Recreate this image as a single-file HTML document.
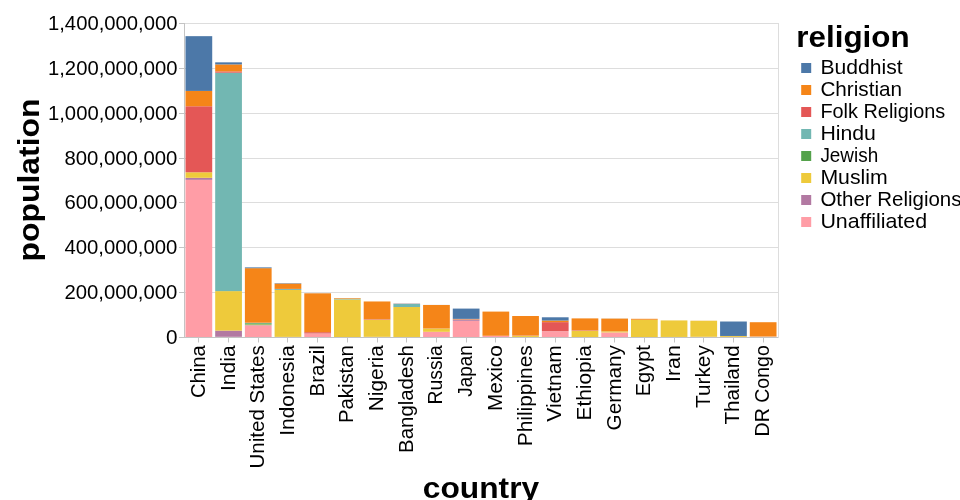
<!DOCTYPE html>
<html><head><meta charset="utf-8"><title>chart</title>
<style>html,body{margin:0;padding:0;background:#fff;}svg{display:block;}text{font-family:"Liberation Sans",sans-serif;fill:#000;}</style></head><body>
<svg width="960" height="500" viewBox="0 0 960 500">
<rect width="960" height="500" fill="#fff"/>
<g><line x1="184" x2="778" y1="337.5" y2="337.5" stroke="#ddd" stroke-width="1"/><line x1="184" x2="778" y1="292.5" y2="292.5" stroke="#ddd" stroke-width="1"/><line x1="184" x2="778" y1="247.5" y2="247.5" stroke="#ddd" stroke-width="1"/><line x1="184" x2="778" y1="202.5" y2="202.5" stroke="#ddd" stroke-width="1"/><line x1="184" x2="778" y1="158.5" y2="158.5" stroke="#ddd" stroke-width="1"/><line x1="184" x2="778" y1="113.5" y2="113.5" stroke="#ddd" stroke-width="1"/><line x1="184" x2="778" y1="68.5" y2="68.5" stroke="#ddd" stroke-width="1"/><line x1="184" x2="778" y1="23.5" y2="23.5" stroke="#ddd" stroke-width="1"/></g>
<g><rect x="185.49" y="179.85" width="26.73" height="157.15" fill="#ff9da6"/><rect x="185.49" y="177.81" width="26.73" height="2.04" fill="#b279a2"/><rect x="185.49" y="172.27" width="26.73" height="5.54" fill="#eeca3b"/><rect x="185.49" y="172.27" width="26.73" height="0.00" fill="#72b7b2"/><rect x="185.49" y="106.26" width="26.73" height="66.01" fill="#e45756"/><rect x="185.49" y="90.91" width="26.73" height="15.34" fill="#f58518"/><rect x="185.49" y="36.16" width="26.73" height="54.75" fill="#4c78a8"/><rect x="215.19" y="336.80" width="26.73" height="0.20" fill="#ff9da6"/><rect x="215.19" y="330.62" width="26.73" height="6.18" fill="#b279a2"/><rect x="215.19" y="291.11" width="26.73" height="39.52" fill="#eeca3b"/><rect x="215.19" y="291.10" width="26.73" height="0.00" fill="#54a24b"/><rect x="215.19" y="72.71" width="26.73" height="218.40" fill="#72b7b2"/><rect x="215.19" y="71.40" width="26.73" height="1.31" fill="#e45756"/><rect x="215.19" y="64.41" width="26.73" height="6.98" fill="#f58518"/><rect x="215.19" y="62.34" width="26.73" height="2.07" fill="#4c78a8"/><rect x="244.89" y="325.57" width="26.73" height="11.43" fill="#ff9da6"/><rect x="244.89" y="325.14" width="26.73" height="0.43" fill="#b279a2"/><rect x="244.89" y="324.52" width="26.73" height="0.62" fill="#eeca3b"/><rect x="244.89" y="323.24" width="26.73" height="1.28" fill="#54a24b"/><rect x="244.89" y="322.84" width="26.73" height="0.40" fill="#72b7b2"/><rect x="244.89" y="322.70" width="26.73" height="0.14" fill="#e45756"/><rect x="244.89" y="268.18" width="26.73" height="54.51" fill="#f58518"/><rect x="244.89" y="267.38" width="26.73" height="0.80" fill="#4c78a8"/><rect x="274.59" y="336.95" width="26.73" height="0.05" fill="#ff9da6"/><rect x="274.59" y="336.87" width="26.73" height="0.08" fill="#b279a2"/><rect x="274.59" y="289.97" width="26.73" height="46.90" fill="#eeca3b"/><rect x="274.59" y="289.06" width="26.73" height="0.91" fill="#72b7b2"/><rect x="274.59" y="288.89" width="26.73" height="0.17" fill="#e45756"/><rect x="274.59" y="283.58" width="26.73" height="5.31" fill="#f58518"/><rect x="274.59" y="283.20" width="26.73" height="0.39" fill="#4c78a8"/><rect x="304.29" y="333.54" width="26.73" height="3.46" fill="#ff9da6"/><rect x="304.29" y="333.46" width="26.73" height="0.08" fill="#b279a2"/><rect x="304.29" y="333.45" width="26.73" height="0.01" fill="#eeca3b"/><rect x="304.29" y="333.43" width="26.73" height="0.02" fill="#54a24b"/><rect x="304.29" y="332.18" width="26.73" height="1.24" fill="#e45756"/><rect x="304.29" y="293.32" width="26.73" height="38.87" fill="#f58518"/><rect x="304.29" y="293.26" width="26.73" height="0.06" fill="#4c78a8"/><rect x="333.99" y="299.45" width="26.73" height="37.55" fill="#eeca3b"/><rect x="333.99" y="298.71" width="26.73" height="0.75" fill="#72b7b2"/><rect x="333.99" y="298.09" width="26.73" height="0.62" fill="#f58518"/><rect x="333.99" y="298.08" width="26.73" height="0.00" fill="#4c78a8"/><rect x="363.69" y="336.85" width="26.73" height="0.15" fill="#ff9da6"/><rect x="363.69" y="336.83" width="26.73" height="0.02" fill="#b279a2"/><rect x="363.69" y="319.49" width="26.73" height="17.34" fill="#eeca3b"/><rect x="363.69" y="318.98" width="26.73" height="0.51" fill="#e45756"/><rect x="363.69" y="301.47" width="26.73" height="17.51" fill="#f58518"/><rect x="363.69" y="301.47" width="26.73" height="0.00" fill="#4c78a8"/><rect x="393.38" y="336.98" width="26.73" height="0.02" fill="#ff9da6"/><rect x="393.38" y="336.97" width="26.73" height="0.01" fill="#b279a2"/><rect x="393.38" y="307.02" width="26.73" height="29.95" fill="#eeca3b"/><rect x="393.38" y="303.98" width="26.73" height="3.03" fill="#72b7b2"/><rect x="393.38" y="303.85" width="26.73" height="0.13" fill="#e45756"/><rect x="393.38" y="303.79" width="26.73" height="0.06" fill="#f58518"/><rect x="393.38" y="303.58" width="26.73" height="0.21" fill="#4c78a8"/><rect x="423.09" y="331.80" width="26.73" height="5.20" fill="#ff9da6"/><rect x="423.09" y="328.60" width="26.73" height="3.21" fill="#eeca3b"/><rect x="423.09" y="328.54" width="26.73" height="0.05" fill="#54a24b"/><rect x="423.09" y="328.54" width="26.73" height="0.01" fill="#72b7b2"/><rect x="423.09" y="328.46" width="26.73" height="0.07" fill="#e45756"/><rect x="423.09" y="304.97" width="26.73" height="23.49" fill="#f58518"/><rect x="423.09" y="304.93" width="26.73" height="0.04" fill="#4c78a8"/><rect x="452.79" y="320.82" width="26.73" height="16.18" fill="#ff9da6"/><rect x="452.79" y="319.50" width="26.73" height="1.32" fill="#b279a2"/><rect x="452.79" y="319.44" width="26.73" height="0.06" fill="#eeca3b"/><rect x="452.79" y="319.43" width="26.73" height="0.01" fill="#72b7b2"/><rect x="452.79" y="319.32" width="26.73" height="0.12" fill="#e45756"/><rect x="452.79" y="318.86" width="26.73" height="0.46" fill="#f58518"/><rect x="452.79" y="308.59" width="26.73" height="10.28" fill="#4c78a8"/><rect x="482.49" y="335.80" width="26.73" height="1.20" fill="#ff9da6"/><rect x="482.49" y="335.80" width="26.73" height="0.01" fill="#b279a2"/><rect x="482.49" y="335.78" width="26.73" height="0.02" fill="#54a24b"/><rect x="482.49" y="335.76" width="26.73" height="0.02" fill="#e45756"/><rect x="482.49" y="311.59" width="26.73" height="24.17" fill="#f58518"/><rect x="512.18" y="336.98" width="26.73" height="0.02" fill="#ff9da6"/><rect x="512.18" y="336.95" width="26.73" height="0.03" fill="#b279a2"/><rect x="512.18" y="335.79" width="26.73" height="1.16" fill="#eeca3b"/><rect x="512.18" y="335.48" width="26.73" height="0.31" fill="#e45756"/><rect x="512.18" y="316.01" width="26.73" height="19.47" fill="#f58518"/><rect x="541.88" y="331.16" width="26.73" height="5.84" fill="#ff9da6"/><rect x="541.88" y="331.08" width="26.73" height="0.08" fill="#b279a2"/><rect x="541.88" y="331.05" width="26.73" height="0.04" fill="#eeca3b"/><rect x="541.88" y="322.13" width="26.73" height="8.92" fill="#e45756"/><rect x="541.88" y="320.51" width="26.73" height="1.61" fill="#f58518"/><rect x="541.88" y="317.29" width="26.73" height="3.23" fill="#4c78a8"/><rect x="571.59" y="336.99" width="26.73" height="0.01" fill="#ff9da6"/><rect x="571.59" y="330.56" width="26.73" height="6.43" fill="#eeca3b"/><rect x="571.59" y="330.07" width="26.73" height="0.48" fill="#e45756"/><rect x="571.59" y="318.40" width="26.73" height="11.68" fill="#f58518"/><rect x="601.29" y="332.44" width="26.73" height="4.56" fill="#ff9da6"/><rect x="601.29" y="332.42" width="26.73" height="0.02" fill="#b279a2"/><rect x="601.29" y="331.35" width="26.73" height="1.07" fill="#eeca3b"/><rect x="601.29" y="331.30" width="26.73" height="0.05" fill="#54a24b"/><rect x="601.29" y="331.28" width="26.73" height="0.02" fill="#72b7b2"/><rect x="601.29" y="331.27" width="26.73" height="0.01" fill="#e45756"/><rect x="601.29" y="318.59" width="26.73" height="12.68" fill="#f58518"/><rect x="601.29" y="318.54" width="26.73" height="0.05" fill="#4c78a8"/><rect x="630.99" y="319.73" width="26.73" height="17.27" fill="#eeca3b"/><rect x="630.99" y="318.81" width="26.73" height="0.92" fill="#f58518"/><rect x="660.68" y="336.98" width="26.73" height="0.02" fill="#ff9da6"/><rect x="660.68" y="336.94" width="26.73" height="0.03" fill="#b279a2"/><rect x="660.68" y="320.44" width="26.73" height="16.50" fill="#eeca3b"/><rect x="660.68" y="320.42" width="26.73" height="0.02" fill="#f58518"/><rect x="690.38" y="336.81" width="26.73" height="0.19" fill="#ff9da6"/><rect x="690.38" y="336.77" width="26.73" height="0.03" fill="#b279a2"/><rect x="690.38" y="320.78" width="26.73" height="16.00" fill="#eeca3b"/><rect x="690.38" y="320.77" width="26.73" height="0.00" fill="#54a24b"/><rect x="690.38" y="320.70" width="26.73" height="0.07" fill="#f58518"/><rect x="690.38" y="320.69" width="26.73" height="0.01" fill="#4c78a8"/><rect x="720.09" y="336.96" width="26.73" height="0.04" fill="#ff9da6"/><rect x="720.09" y="336.11" width="26.73" height="0.85" fill="#eeca3b"/><rect x="720.09" y="336.10" width="26.73" height="0.02" fill="#72b7b2"/><rect x="720.09" y="335.96" width="26.73" height="0.13" fill="#f58518"/><rect x="720.09" y="321.51" width="26.73" height="14.45" fill="#4c78a8"/><rect x="749.78" y="336.74" width="26.73" height="0.26" fill="#ff9da6"/><rect x="749.78" y="336.72" width="26.73" height="0.02" fill="#b279a2"/><rect x="749.78" y="336.50" width="26.73" height="0.22" fill="#eeca3b"/><rect x="749.78" y="336.49" width="26.73" height="0.01" fill="#72b7b2"/><rect x="749.78" y="336.38" width="26.73" height="0.11" fill="#e45756"/><rect x="749.78" y="322.22" width="26.73" height="14.16" fill="#f58518"/></g>
<rect x="184.5" y="23.5" width="594" height="314" fill="none" stroke="#ddd" stroke-width="1"/>
<g><line x1="179" x2="184" y1="337.5" y2="337.5" stroke="#c4c4c4" stroke-width="1"/><text x="177.4" y="344.0" font-size="20" text-anchor="end" textLength="11.5" lengthAdjust="spacingAndGlyphs">0</text><line x1="179" x2="184" y1="292.5" y2="292.5" stroke="#c4c4c4" stroke-width="1"/><text x="177.4" y="299.0" font-size="20" text-anchor="end" textLength="113.0" lengthAdjust="spacingAndGlyphs">200,000,000</text><line x1="179" x2="184" y1="247.5" y2="247.5" stroke="#c4c4c4" stroke-width="1"/><text x="177.4" y="254.0" font-size="20" text-anchor="end" textLength="113.0" lengthAdjust="spacingAndGlyphs">400,000,000</text><line x1="179" x2="184" y1="202.5" y2="202.5" stroke="#c4c4c4" stroke-width="1"/><text x="177.4" y="209.0" font-size="20" text-anchor="end" textLength="113.0" lengthAdjust="spacingAndGlyphs">600,000,000</text><line x1="179" x2="184" y1="158.5" y2="158.5" stroke="#c4c4c4" stroke-width="1"/><text x="177.4" y="165.0" font-size="20" text-anchor="end" textLength="113.0" lengthAdjust="spacingAndGlyphs">800,000,000</text><line x1="179" x2="184" y1="113.5" y2="113.5" stroke="#c4c4c4" stroke-width="1"/><text x="177.4" y="120.0" font-size="20" text-anchor="end" textLength="129.4" lengthAdjust="spacingAndGlyphs">1,000,000,000</text><line x1="179" x2="184" y1="68.5" y2="68.5" stroke="#c4c4c4" stroke-width="1"/><text x="177.4" y="75.0" font-size="20" text-anchor="end" textLength="129.4" lengthAdjust="spacingAndGlyphs">1,200,000,000</text><line x1="179" x2="184" y1="23.5" y2="23.5" stroke="#c4c4c4" stroke-width="1"/><text x="177.4" y="30.0" font-size="20" text-anchor="end" textLength="129.4" lengthAdjust="spacingAndGlyphs">1,400,000,000</text></g>
<g><line x1="184" x2="778" y1="337.5" y2="337.5" stroke="#c4c4c4" stroke-width="1"/><line x1="184.5" x2="184.5" y1="23" y2="337" stroke="#c4c4c4" stroke-width="1"/><line x1="198.5" x2="198.5" y1="337.5" y2="342.5" stroke="#c4c4c4" stroke-width="1"/><text transform="translate(204.85,345.2) rotate(-90)" font-size="19.8" text-anchor="end" textLength="52.8" lengthAdjust="spacingAndGlyphs">China</text><line x1="228.5" x2="228.5" y1="337.5" y2="342.5" stroke="#c4c4c4" stroke-width="1"/><text transform="translate(234.55,345.2) rotate(-90)" font-size="19.8" text-anchor="end" textLength="45.8" lengthAdjust="spacingAndGlyphs">India</text><line x1="258.5" x2="258.5" y1="337.5" y2="342.5" stroke="#c4c4c4" stroke-width="1"/><text transform="translate(264.25,345.2) rotate(-90)" font-size="19.8" text-anchor="end" textLength="123.4" lengthAdjust="spacingAndGlyphs">United States</text><line x1="287.5" x2="287.5" y1="337.5" y2="342.5" stroke="#c4c4c4" stroke-width="1"/><text transform="translate(293.95,345.2) rotate(-90)" font-size="19.8" text-anchor="end" textLength="90.5" lengthAdjust="spacingAndGlyphs">Indonesia</text><line x1="317.5" x2="317.5" y1="337.5" y2="342.5" stroke="#c4c4c4" stroke-width="1"/><text transform="translate(323.65,345.2) rotate(-90)" font-size="19.8" text-anchor="end" textLength="51.2" lengthAdjust="spacingAndGlyphs">Brazil</text><line x1="347.5" x2="347.5" y1="337.5" y2="342.5" stroke="#c4c4c4" stroke-width="1"/><text transform="translate(353.35,345.2) rotate(-90)" font-size="19.8" text-anchor="end" textLength="77.9" lengthAdjust="spacingAndGlyphs">Pakistan</text><line x1="377.5" x2="377.5" y1="337.5" y2="342.5" stroke="#c4c4c4" stroke-width="1"/><text transform="translate(383.05,345.2) rotate(-90)" font-size="19.8" text-anchor="end" textLength="66.0" lengthAdjust="spacingAndGlyphs">Nigeria</text><line x1="406.5" x2="406.5" y1="337.5" y2="342.5" stroke="#c4c4c4" stroke-width="1"/><text transform="translate(412.75,345.2) rotate(-90)" font-size="19.8" text-anchor="end" textLength="107.7" lengthAdjust="spacingAndGlyphs">Bangladesh</text><line x1="436.5" x2="436.5" y1="337.5" y2="342.5" stroke="#c4c4c4" stroke-width="1"/><text transform="translate(442.45,345.2) rotate(-90)" font-size="19.8" text-anchor="end" textLength="59.3" lengthAdjust="spacingAndGlyphs">Russia</text><line x1="466.5" x2="466.5" y1="337.5" y2="342.5" stroke="#c4c4c4" stroke-width="1"/><text transform="translate(472.15,345.2) rotate(-90)" font-size="19.8" text-anchor="end" textLength="51.6" lengthAdjust="spacingAndGlyphs">Japan</text><line x1="495.5" x2="495.5" y1="337.5" y2="342.5" stroke="#c4c4c4" stroke-width="1"/><text transform="translate(501.85,345.2) rotate(-90)" font-size="19.8" text-anchor="end" textLength="65.8" lengthAdjust="spacingAndGlyphs">Mexico</text><line x1="525.5" x2="525.5" y1="337.5" y2="342.5" stroke="#c4c4c4" stroke-width="1"/><text transform="translate(531.55,345.2) rotate(-90)" font-size="19.8" text-anchor="end" textLength="101.1" lengthAdjust="spacingAndGlyphs">Philippines</text><line x1="555.5" x2="555.5" y1="337.5" y2="342.5" stroke="#c4c4c4" stroke-width="1"/><text transform="translate(561.25,345.2) rotate(-90)" font-size="19.8" text-anchor="end" textLength="76.5" lengthAdjust="spacingAndGlyphs">Vietnam</text><line x1="584.5" x2="584.5" y1="337.5" y2="342.5" stroke="#c4c4c4" stroke-width="1"/><text transform="translate(590.95,345.2) rotate(-90)" font-size="19.8" text-anchor="end" textLength="75.3" lengthAdjust="spacingAndGlyphs">Ethiopia</text><line x1="614.5" x2="614.5" y1="337.5" y2="342.5" stroke="#c4c4c4" stroke-width="1"/><text transform="translate(620.65,345.2) rotate(-90)" font-size="19.8" text-anchor="end" textLength="85.2" lengthAdjust="spacingAndGlyphs">Germany</text><line x1="644.5" x2="644.5" y1="337.5" y2="342.5" stroke="#c4c4c4" stroke-width="1"/><text transform="translate(650.35,345.2) rotate(-90)" font-size="19.8" text-anchor="end" textLength="51.0" lengthAdjust="spacingAndGlyphs">Egypt</text><line x1="674.5" x2="674.5" y1="337.5" y2="342.5" stroke="#c4c4c4" stroke-width="1"/><text transform="translate(680.05,345.2) rotate(-90)" font-size="19.8" text-anchor="end" textLength="36.8" lengthAdjust="spacingAndGlyphs">Iran</text><line x1="703.5" x2="703.5" y1="337.5" y2="342.5" stroke="#c4c4c4" stroke-width="1"/><text transform="translate(709.75,345.2) rotate(-90)" font-size="19.8" text-anchor="end" textLength="62.7" lengthAdjust="spacingAndGlyphs">Turkey</text><line x1="733.5" x2="733.5" y1="337.5" y2="342.5" stroke="#c4c4c4" stroke-width="1"/><text transform="translate(739.45,345.2) rotate(-90)" font-size="19.8" text-anchor="end" textLength="79.4" lengthAdjust="spacingAndGlyphs">Thailand</text><line x1="763.5" x2="763.5" y1="337.5" y2="342.5" stroke="#c4c4c4" stroke-width="1"/><text transform="translate(769.15,345.2) rotate(-90)" font-size="19.8" text-anchor="end" textLength="91.2" lengthAdjust="spacingAndGlyphs">DR Congo</text></g>
<text x="481.0" y="497.5" font-size="29.8" font-weight="bold" text-anchor="middle" textLength="116.3" lengthAdjust="spacingAndGlyphs">country</text>
<text transform="translate(38.6,180.0) rotate(-90)" font-size="29.8" font-weight="bold" text-anchor="middle" textLength="162.9" lengthAdjust="spacingAndGlyphs">population</text>
<text x="796.3" y="46.5" font-size="29.8" font-weight="bold" textLength="113.3" lengthAdjust="spacingAndGlyphs">religion</text>
<g><rect x="801.2" y="63" width="10" height="10" fill="#4c78a8"/><text x="820.4" y="74" font-size="19.8" textLength="82.2" lengthAdjust="spacingAndGlyphs">Buddhist</text><rect x="801.2" y="85" width="10" height="10" fill="#f58518"/><text x="820.4" y="96" font-size="19.8" textLength="81.7" lengthAdjust="spacingAndGlyphs">Christian</text><rect x="801.2" y="107" width="10" height="10" fill="#e45756"/><text x="820.4" y="118" font-size="19.8" textLength="124.9" lengthAdjust="spacingAndGlyphs">Folk Religions</text><rect x="801.2" y="129" width="10" height="10" fill="#72b7b2"/><text x="820.4" y="140" font-size="19.8" textLength="55.5" lengthAdjust="spacingAndGlyphs">Hindu</text><rect x="801.2" y="151" width="10" height="10" fill="#54a24b"/><text x="820.4" y="162" font-size="19.8" textLength="57.8" lengthAdjust="spacingAndGlyphs">Jewish</text><rect x="801.2" y="173" width="10" height="10" fill="#eeca3b"/><text x="820.4" y="184" font-size="19.8" textLength="67.3" lengthAdjust="spacingAndGlyphs">Muslim</text><rect x="801.2" y="195" width="10" height="10" fill="#b279a2"/><text x="820.4" y="206" font-size="19.8" textLength="141.1" lengthAdjust="spacingAndGlyphs">Other Religions</text><rect x="801.2" y="217" width="10" height="10" fill="#ff9da6"/><text x="820.4" y="228" font-size="19.8" textLength="106.7" lengthAdjust="spacingAndGlyphs">Unaffiliated</text></g>
</svg></body></html>
